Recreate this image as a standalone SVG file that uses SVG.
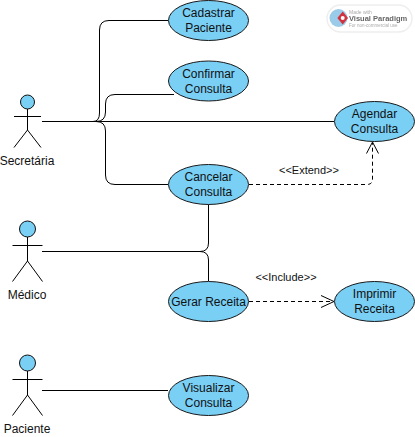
<svg xmlns="http://www.w3.org/2000/svg" width="415" height="437" viewBox="0 0 415 437">
<style>
text{font-family:"Liberation Sans",Arial,sans-serif;font-size:12px;fill:#111;text-anchor:middle}
.uc{fill:#7ACFF5;stroke:#1a1a1a;stroke-width:1}
.head{fill:#7ACFF5;stroke:#111;stroke-width:1}
.st{fill:none;stroke:#000;stroke-width:1}
.c{fill:none;stroke:#000;stroke-width:1}
.d{fill:none;stroke:#000;stroke-width:1;stroke-dasharray:4 3}
.a{fill:none;stroke:#000;stroke-width:1}
.lbl{font-size:11px}
</style>
<defs><filter id="soft" x="-5%" y="-5%" width="110%" height="110%"><feGaussianBlur stdDeviation="0.35"/></filter></defs>
<rect width="415" height="437" fill="#fff"/>
<g id="connectors">
<path class="c" d="M42 121.500H334"/>
<path class="c" d="M93 121.500Q99.500 121.500 99.500 113V30Q99.500 20.500 109 20.500H168"/>
<path class="c" d="M96 121.500Q105.500 121.500 105.500 112V104Q105.500 94.500 115 94.500H174"/>
<path class="c" d="M96 121.500Q105.500 121.500 105.500 131V175Q105.500 184.500 115 184.500H168"/>
<path class="c" d="M42 251.500H200Q208.500 251.500 208.500 243V204"/>
<path class="c" d="M200 251.500Q208.500 251.500 208.500 260V281"/>
<path class="c" d="M42 390.500H168"/>
<path class="d" d="M249 184.500H367Q372.500 184.500 372.500 179V143"/>
<path class="a" d="M366.500 153.500L372.500 142L378.500 153.500"/>
<path class="d" d="M249 301.500H333"/>
<path class="a" d="M321 295.500L334 301.500L321 307.500"/>
<text class="lbl" x="309" y="174">&lt;&lt;Extend&gt;&gt;</text>
<text class="lbl" x="286" y="281">&lt;&lt;Include&gt;&gt;</text>
</g>
<g id="actor-secretaria">
<circle class="head" cx="27.500" cy="102" r="7"/>
<path class="st" d="M27.500 109V130M14 116.500H41M14 147.500L27.500 130L41 147.500"/>
<text x="27" y="165">Secretária</text>
</g>
<g id="actor-medico">
<circle class="head" cx="27.500" cy="229" r="8"/>
<path class="st" d="M27.500 237V261M12.500 245.500H42.500M12.500 281.500L27.500 261L42.500 281.500"/>
<text x="27" y="299">Médico</text>
</g>
<g id="actor-paciente">
<circle class="head" cx="27.500" cy="363" r="8"/>
<path class="st" d="M27.500 371V395M12.500 379.500H42.500M12.500 415.500L27.500 395L42.500 415.500"/>
<text x="27" y="433">Paciente</text>
</g>
<g id="uc-cadastrar">
<ellipse class="uc" cx="208.500" cy="20.500" rx="40" ry="20"/>
<text x="208.500" y="17">Cadastrar</text><text x="208.500" y="32">Paciente</text>
</g>
<g id="uc-confirmar">
<ellipse class="uc" cx="208.500" cy="81" rx="40" ry="20"/>
<text x="208.500" y="78">Confirmar</text><text x="208.500" y="93">Consulta</text>
</g>
<g id="uc-agendar">
<ellipse class="uc" cx="374.500" cy="121.500" rx="40" ry="20"/>
<text x="374.500" y="118">Agendar</text><text x="374.500" y="133">Consulta</text>
</g>
<g id="uc-cancelar">
<ellipse class="uc" cx="208.500" cy="184.500" rx="40" ry="20"/>
<text x="208.500" y="181">Cancelar</text><text x="208.500" y="196">Consulta</text>
</g>
<g id="uc-gerar">
<ellipse class="uc" cx="208.500" cy="301.500" rx="40" ry="20"/>
<text x="208.500" y="305.500">Gerar Receita</text>
</g>
<g id="uc-imprimir">
<ellipse class="uc" cx="374.500" cy="301.500" rx="40" ry="20"/>
<text x="374.500" y="298">Imprimir</text><text x="374.500" y="313">Receita</text>
</g>
<g id="uc-visualizar">
<ellipse class="uc" cx="208.500" cy="395.500" rx="40" ry="20"/>
<text x="208.500" y="392">Visualizar</text><text x="208.500" y="407">Consulta</text>
</g>
<g id="watermark" filter="url(#soft)">
<rect x="327" y="5" width="85" height="27" rx="13.500" fill="#fff" stroke="#eee" stroke-width="1.500"/>
<circle cx="338.500" cy="18" r="9" fill="#9acbe8"/>
<path d="M342.700 11.500L348 18L342.700 24.500L337.400 18Z" fill="#d2313c"/>
<circle cx="342.700" cy="18" r="2" fill="#fff"/>
<text x="349" y="14" style="font-size:5px;text-anchor:start;fill:#aaa">Made with</text>
<text x="349" y="21" style="font-size:7.500px;font-weight:bold;text-anchor:start;fill:#666">Visual Paradigm</text>
<text x="349" y="27" style="font-size:4.500px;text-anchor:start;fill:#aaa">For non-commercial use</text>
</g>
</svg>
